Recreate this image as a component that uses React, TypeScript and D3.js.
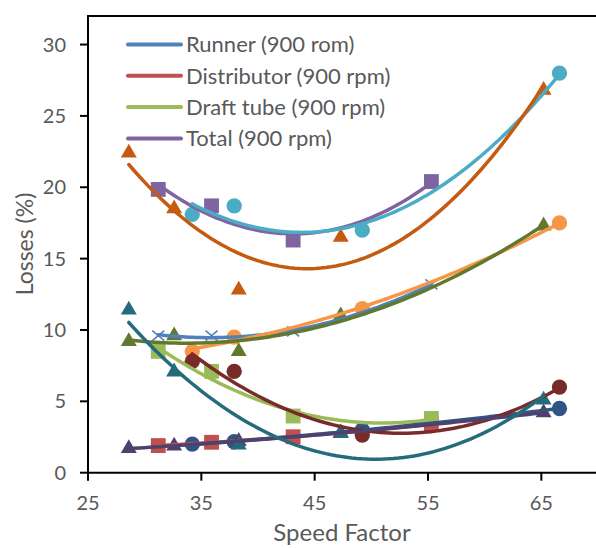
import React from 'react';
import * as d3 from 'd3';

// speed factor positions for the three test sets
const speedSquares = [31.2, 35.9, 43.1, 55.3];
const speedCircles = [34.2, 37.9, 49.2, 66.6];
const speedTriangles = [28.6, 32.6, 38.3, 47.3, 65.2];

// 900 rpm (squares / cross)
const runner900 = [9.6, 9.6, 9.9, 13.2];
const distributor900 = [1.9, 2.13, 2.52, 3.4];
const draftTube900 = [8.5, 7.1, 3.97, 3.8];
const total900 = [19.85, 18.7, 16.3, 20.4];

// circles
const runnerCircles = [8.5, 9.5, 11.5, 17.5];
const distributorCircles = [2.0, 2.17, 3.0, 4.5];
const draftTubeCircles = [7.8, 7.1, 2.64, 6.0];
const totalCircles = [18.1, 18.7, 17.0, 28.0];

// triangles
const runnerTriangles = [9.2, 9.6, 8.5, 11.0, 17.3];
const distributorTriangles = [1.7, 1.87, 2.2, 2.8, 4.2];
const draftTubeTriangles = [11.4, 7.07, 1.94, 2.76, 5.1];
const totalTriangles = [22.4, 18.5, 12.8, 16.5, 26.8];

const xTicks = [25, 35, 45, 55, 65];
const yTicks = [0, 5, 10, 15, 20, 25, 30];
const legendLabels = ['Runner (900 rom)', 'Distributor (900 rpm)', 'Draft tube (900 rpm)', 'Total (900 rpm)'];
const legendColors = ['#4F81BD', '#C0504D', '#9BBB59', '#8064A2'];

const series = [
  { xs: speedSquares, ys: runner900, color: '#4F81BD', marker: 'x' },
  { xs: speedSquares, ys: distributor900, color: '#C0504D', marker: 'square' },
  { xs: speedSquares, ys: draftTube900, color: '#9BBB59', marker: 'square' },
  { xs: speedSquares, ys: total900, color: '#8064A2', marker: 'square' },
  { xs: speedCircles, ys: runnerCircles, color: '#F79646', marker: 'circle' },
  { xs: speedCircles, ys: distributorCircles, color: '#2F5585', marker: 'circle' },
  { xs: speedCircles, ys: draftTubeCircles, color: '#772C2A', marker: 'circle' },
  { xs: speedCircles, ys: totalCircles, color: '#4BACC6', marker: 'circle' },
  { xs: speedTriangles, ys: runnerTriangles, color: '#60792F', marker: 'triangle' },
  { xs: speedTriangles, ys: distributorTriangles, color: '#50406E', marker: 'triangle' },
  { xs: speedTriangles, ys: draftTubeTriangles, color: '#256B7C', marker: 'triangle' },
  { xs: speedTriangles, ys: totalTriangles, color: '#C55A11', marker: 'triangle' },
];

// least squares 2nd order polynomial (Excel style trendline)
function polyFit2(xs: number[], ys: number[]) {
  let s0 = 0, s1 = 0, s2 = 0, s3 = 0, s4 = 0, t0 = 0, t1 = 0, t2 = 0;
  xs.forEach((x, i) => {
    const y = ys[i];
    s0 += 1; s1 += x; s2 += x * x; s3 += x * x * x; s4 += x * x * x * x;
    t0 += y; t1 += x * y; t2 += x * x * y;
  });
  const m = [
    [s0, s1, s2, t0],
    [s1, s2, s3, t1],
    [s2, s3, s4, t2],
  ];
  for (let c = 0; c < 3; c++) {
    for (let r = c + 1; r < 3; r++) {
      const f = m[r][c] / m[c][c];
      for (let k = c; k < 4; k++) m[r][k] -= f * m[c][k];
    }
  }
  const coef = [0, 0, 0];
  for (let r = 2; r >= 0; r--) {
    let s = m[r][3];
    for (let k = r + 1; k < 3; k++) s -= m[r][k] * coef[k];
    coef[r] = s / m[r][r];
  }
  return (x: number) => coef[0] + coef[1] * x + coef[2] * x * x;
}

const font = 'Lato, "Open Sans", sans-serif';

export default function App() {
  const width = 596;
  const height = 548;

  const x = d3.scaleLinear().domain([25, 70]).range([88, 598]);
  const y = d3.scaleLinear().domain([0, 32]).range([472.7, 16]);

  const line = d3.line<[number, number]>()
    .x(d => x(d[0]))
    .y(d => y(d[1]))
    .curve(d3.curveLinear);

  const squarePath = d3.symbol(d3.symbolSquare, 220)()!;
  const circlePath = d3.symbol(d3.symbolCircle, 185)()!;
  const trianglePath = d3.symbol(d3.symbolTriangle, 110)()!;
  const crossPath = 'M-6,-5L6,5M-6,5L6,-5';

  const trend = (s: typeof series[number]) => {
    const f = polyFit2(s.xs, s.ys);
    const [lo, hi] = d3.extent(s.xs) as [number, number];
    const pts: [number, number][] = d3.range(0, 81).map(i => {
      const xv = lo + (hi - lo) * (i / 80);
      return [xv, f(xv)];
    });
    return line(pts) || '';
  };

  return (
    <svg width={width} height={height} style={{ position: 'absolute', left: 0, top: 0, background: '#fff' }}>
      {/* markers */}
      {series.map((s, si) => (
        <g key={'m' + si}>
          {s.xs.map((xv, i) => {
            const tx = `translate(${x(xv)},${y(s.ys[i])})`;
            if (s.marker === 'x') {
              return <path key={i} d={crossPath} transform={tx} stroke={s.color} strokeWidth={1.5} fill="none" />;
            }
            const d = s.marker === 'square' ? squarePath : s.marker === 'circle' ? circlePath : trianglePath;
            return <path key={i} d={d} transform={tx} fill={s.color} />;
          })}
        </g>
      ))}

      {/* trendlines */}
      {series.map((s, si) => (
        <path key={'t' + si} d={trend(s)} fill="none" stroke={s.color} strokeWidth={3.5} strokeLinecap="round" />
      ))}

      {/* axes */}
      <line x1={88} x2={598} y1={16} y2={16} stroke="#000" strokeWidth={2} />
      <line x1={88} x2={88} y1={15} y2={474} stroke="#000" strokeWidth={2} />
      <line x1={87} x2={598} y1={y(0)} y2={y(0)} stroke="#000" strokeWidth={2} />

      {yTicks.map(t => (
        <g key={'y' + t}>
          <line x1={80} x2={88} y1={y(t)} y2={y(t)} stroke="#000" strokeWidth={2} />
          <text x={66} y={y(t)} dy="0.35em" textAnchor="end" fontFamily={font} fontSize={20} fill="#595959">{t}</text>
        </g>
      ))}
      {xTicks.map(t => (
        <g key={'x' + t}>
          <line x1={x(t)} x2={x(t)} y1={y(0)} y2={y(0) + 8} stroke="#000" strokeWidth={2} />
          <text x={x(t)} y={503} dy="0.35em" textAnchor="middle" fontFamily={font} fontSize={20} fill="#595959">{t}</text>
        </g>
      ))}

      <text x={342} y={541} textAnchor="middle" fontFamily={font} fontSize={24} fill="#595959">Speed Factor</text>
      <text transform="translate(33,244) rotate(-90)" textAnchor="middle" fontFamily={font} fontSize={23} fill="#595959">Losses (%)</text>

      {/* legend */}
      {legendLabels.map((lab, i) => {
        const ly = 44.5 + i * 31.3;
        return (
          <g key={lab}>
            <line x1={128} x2={181} y1={ly} y2={ly} stroke={legendColors[i]} strokeWidth={4} strokeLinecap="round" />
            <text x={186} y={ly} dy="0.35em" fontFamily={font} fontSize={22} fill="#595959">{lab}</text>
          </g>
        );
      })}
    </svg>
  );
}
